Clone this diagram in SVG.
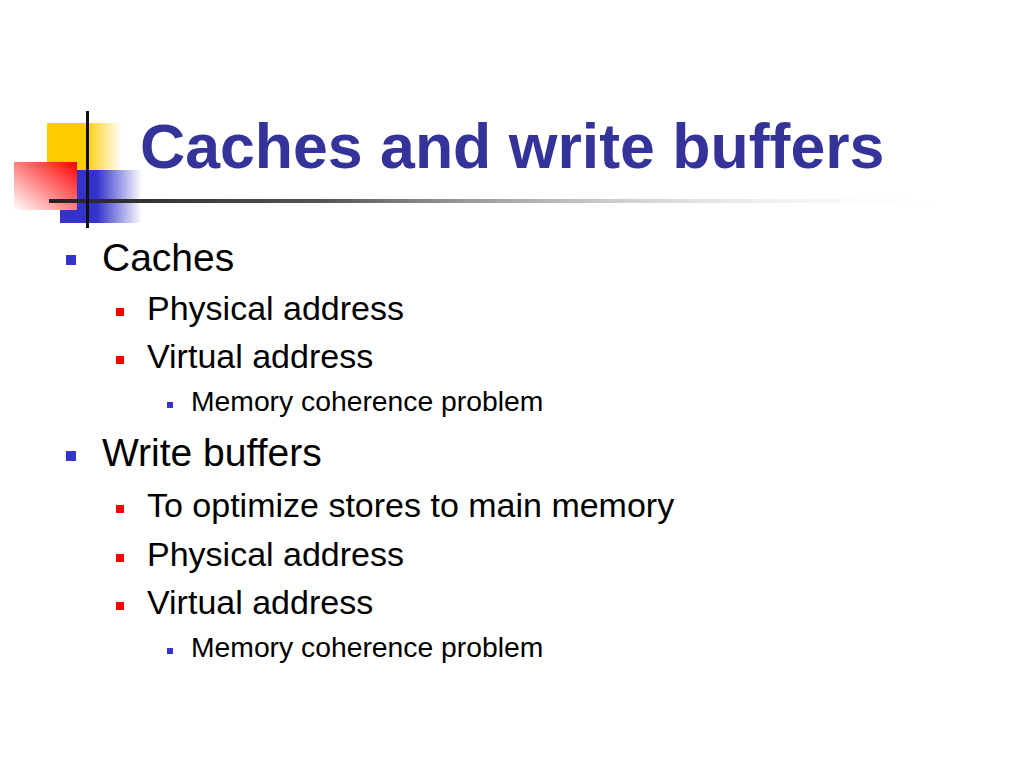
<svg xmlns="http://www.w3.org/2000/svg" width="1024" height="768" viewBox="0 0 1024 768">
<defs>
<linearGradient id="gy" x1="0" y1="0" x2="1" y2="0"><stop offset="0" stop-color="#ffcc00"/><stop offset="0.5" stop-color="#ffcc00"/><stop offset="1" stop-color="#ffcc00" stop-opacity="0"/></linearGradient>
<linearGradient id="gb" x1="0" y1="0" x2="1" y2="0"><stop offset="0" stop-color="#3333cc"/><stop offset="0.45" stop-color="#3333cc"/><stop offset="1" stop-color="#3333cc" stop-opacity="0"/></linearGradient>
<linearGradient id="gr" x1="1" y1="0" x2="0" y2="1"><stop offset="0" stop-color="#ff0000"/><stop offset="1" stop-color="#ffffff"/></linearGradient>
<linearGradient id="gl" x1="0" y1="0" x2="1" y2="0"><stop offset="0" stop-color="#222222"/><stop offset="0.3" stop-color="#555555"/><stop offset="1" stop-color="#ffffff" stop-opacity="0"/></linearGradient>
<style>
.t{font-family:"Liberation Sans",Arial,sans-serif;fill:#000}
.h{font-family:"Liberation Sans",Arial,sans-serif;font-weight:bold;fill:#333399;font-size:62.6px}
.l1{font-size:39px}.l2{font-size:34px}.l3{font-size:28.3px}
.bb{fill:#3333cc}.br{fill:#ff0000}
</style>
</defs>
<rect width="1024" height="768" fill="#fff"/>
<g id="logo">
<rect x="47" y="123" width="75" height="47" fill="url(#gy)"/>
<rect x="60" y="170" width="82" height="53" fill="url(#gb)"/>
<rect x="14" y="162" width="63" height="48" fill="url(#gr)"/>
<rect x="49" y="199" width="915" height="4" fill="url(#gl)"/>
<rect x="86" y="111" width="3" height="117" fill="#111"/>
</g>
<g id="title"><text class="h" x="140" y="168">Caches and write buffers</text></g>
<g id="bullets">
<rect class="bb" x="66" y="255" width="10" height="10"/>
<text class="t l1" x="102" y="271">Caches</text>
<rect class="br" x="116" y="308" width="8" height="8"/>
<text class="t l2" x="147" y="320">Physical address</text>
<rect class="br" x="116" y="356" width="8" height="8"/>
<text class="t l2" x="147" y="368">Virtual address</text>
<rect class="bb" x="167" y="402" width="6" height="6"/>
<text class="t l3" x="191" y="411">Memory coherence problem</text>
<rect class="bb" x="66" y="451" width="10" height="10"/>
<text class="t l1" x="102" y="466">Write buffers</text>
<rect class="br" x="116" y="505" width="8" height="8"/>
<text class="t l2" x="147" y="517">To optimize stores to main memory</text>
<rect class="br" x="116" y="554" width="8" height="8"/>
<text class="t l2" x="147" y="566">Physical address</text>
<rect class="br" x="116" y="602" width="8" height="8"/>
<text class="t l2" x="147" y="614">Virtual address</text>
<rect class="bb" x="167" y="648" width="6" height="6"/>
<text class="t l3" x="191" y="657">Memory coherence problem</text>
</g>
</svg>
